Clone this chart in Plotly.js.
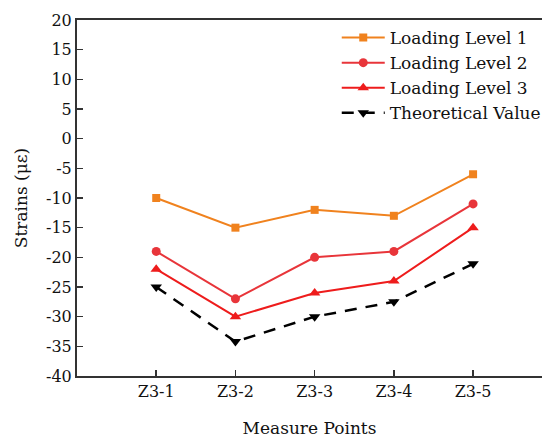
<!DOCTYPE html>
<html>
<head>
<meta charset="utf-8">
<script src="https://cdn.plot.ly/plotly-3.0.1.min.js"></script>
<style>html,body{margin:0;padding:0;background:#fff;}#chart{width:546px;height:440px;}</style>
</head>
<body>
<div id="chart"></div>
<script>
const categories = ["Z3-1", "Z3-2", "Z3-3", "Z3-4", "Z3-5"];
const level1 = [-10, -15, -12, -13, -6];
const level2 = [-19, -27, -20, -19, -11];
const level3 = [-22, -30, -26, -24, -15];
const theoretical = [-25, -34.2, -30, -27.5, -21.1];
const yTicks = [20, 15, 10, 5, 0, -5, -10, -15, -20, -25, -30, -35, -40];

const font = "DejaVu Serif";
const xIdx = categories.map((c, i) => i);

const traces = [
  {x: xIdx, y: level1, name: "Loading Level 1", mode: "lines+markers",
   line: {color: "#F0821E", width: 2}, marker: {symbol: "square", size: 8, color: "#F0821E"}},
  {x: xIdx, y: level2, name: "Loading Level 2", mode: "lines+markers",
   line: {color: "#E8353A", width: 2}, marker: {symbol: "circle", size: 9, color: "#E8353A"}},
  {x: xIdx, y: level3, name: "Loading Level 3", mode: "lines+markers",
   line: {color: "#EE1C1C", width: 2}, marker: {symbol: "triangle-up", size: 10, color: "#EE1C1C"}},
  {x: xIdx, y: theoretical, name: "Theoretical Value", mode: "lines+markers",
   line: {color: "#000000", width: 2.5, dash: "12px,9px"}, marker: {symbol: "triangle-down", size: 10, color: "#000000"}}
];

const layout = {
  width: 546, height: 440,
  margin: {l: 77, r: 0, t: 20, b: 64},
  paper_bgcolor: "#fff", plot_bgcolor: "#fff",
  font: {family: font, size: 17, color: "#111"},
  showlegend: true,
  legend: {x: 0.5586, xanchor: "left", y: 1.0, yanchor: "top", bgcolor: "rgba(0,0,0,0)",
           itemwidth: 43,
           font: {family: font, size: 17, color: "#111"}, tracegroupgap: 0},
  xaxis: {
    range: [-1, 4.87], tickvals: xIdx, ticktext: categories,
    showgrid: false, zeroline: false, showline: true, linecolor: "#333", linewidth: 2,
    mirror: true, ticks: "inside", ticklen: 6, tickwidth: 1.5, tickcolor: "#333",
    tickfont: {family: font, size: 16, color: "#111"},
    title: {text: "Measure Points", font: {family: font, size: 17, color: "#111"}, standoff: 22}
  },
  yaxis: {
    range: [-40, 20], tickvals: yTicks, ticktext: yTicks.map(String),
    showgrid: false, zeroline: false, showline: true, linecolor: "#333", linewidth: 2,
    mirror: false, ticks: "inside", ticklen: 6, tickwidth: 1.5, tickcolor: "#333",
    tickfont: {family: font, size: 16, color: "#111"},
    title: {text: "Strains (με)", font: {family: font, size: 17, color: "#111"}, standoff: 14}
  }
};

Plotly.newPlot("chart", traces, layout, {displayModeBar: false, staticPlot: true});
</script>
</body>
</html>
